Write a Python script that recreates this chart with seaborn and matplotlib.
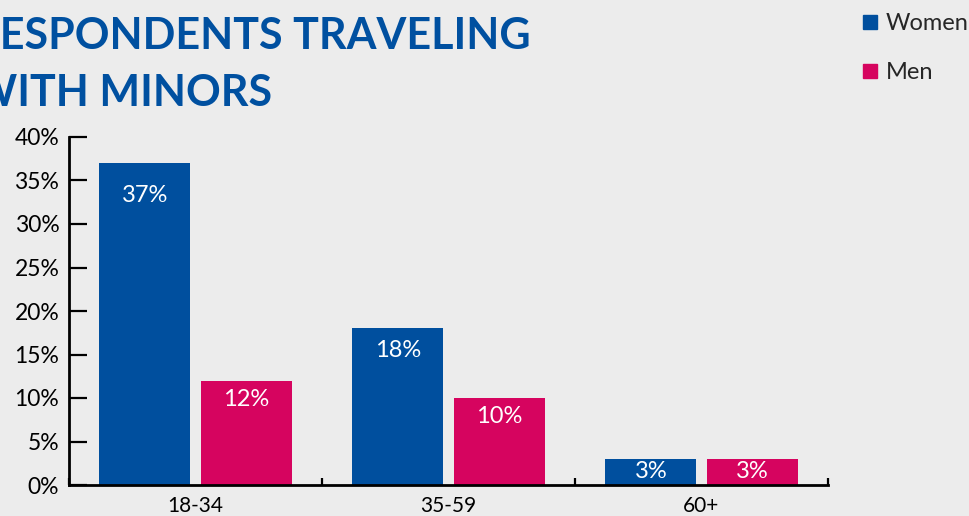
import matplotlib
matplotlib.use("Agg")
import matplotlib.pyplot as plt
import seaborn as sns
import pandas as pd
from matplotlib.lines import Line2D
from matplotlib.ticker import FixedLocator

# Share of respondents traveling with minors, by age group and gender (%)
age_groups = ["18-34", "35-59", "60+"]
women = [37, 18, 3]
men = [12, 10, 3]
genders = ["Women", "Men"]
y_ticks = [0, 5, 10, 15, 20, 25, 30, 35, 40]
y_tick_labels = [f"{t}%" for t in y_ticks]
title = "RESPONDENTS TRAVELING\nWITH MINORS"

BG = "#ececec"
BLUE = "#004f9e"
PINK = "#d6045f"
TITLE_BLUE = "#0050a0"

sns.set_theme(style="white")
plt.rcParams["font.family"] = ["Lato", "DejaVu Sans"]

df = pd.DataFrame({
    "Age": age_groups * 2,
    "Share": women + men,
    "Gender": ["Women"] * len(women) + ["Men"] * len(men),
})

W, H = 970, 516
fig = plt.figure(figsize=(W / 100, H / 100), dpi=100, facecolor=BG)
ax = fig.add_axes([69 / W, (H - 485) / H, (828 - 69) / W, (485 - 137) / H])
ax.set_facecolor(BG)

sns.barplot(data=df, x="Age", y="Share", hue="Gender", hue_order=genders,
            palette={"Women": BLUE, "Men": PINK}, width=0.8, gap=0.1,
            saturation=1, errorbar=None, legend=False, linewidth=0, ax=ax)

ax.set_xlim(-0.5, len(age_groups) - 0.5)
ax.set_ylim(0, 40)
ax.set_xlabel("")
ax.set_ylabel("")

for side in ("top", "right"):
    ax.spines[side].set_visible(False)
for side in ("left", "bottom"):
    ax.spines[side].set_color("black")
    ax.spines[side].set_linewidth(2)

ax.set_yticks(y_ticks)
ax.set_yticklabels(y_tick_labels)
ax.tick_params(axis="y", direction="in", length=13, width=1.6, color="black",
               pad=7, labelsize=16.5, labelcolor="black", left=True)
ax.tick_params(axis="x", which="major", length=0, pad=8, labelsize=15,
               labelcolor="black")
ax.xaxis.set_minor_locator(FixedLocator([i + 0.5 for i in range(-1, len(age_groups))]))
ax.tick_params(axis="x", which="minor", direction="in", length=5, width=1.6,
               color="black", bottom=True)

# value labels inside the top of each bar
px_per_unit = ax.bbox.height / 40
for container in ax.containers:
    for bar in container:
        v = bar.get_height()
        bar_px = v * px_per_unit
        off_px = min(bar_px / 2, 13 + 0.06 * bar_px)
        ax.text(bar.get_x() + bar.get_width() / 2, v - off_px / px_per_unit,
                f"{v:.0f}%", ha="center", va="center", color="white",
                fontsize=17)

fig.text(-28 / W, 1 - 16 / H, title, ha="left", va="top", fontsize=31,
         fontweight="bold", color=TITLE_BLUE, linespacing=1.53)

handles = [Line2D([], [], marker="s", linestyle="none", markersize=10.5,
                  markerfacecolor=c, markeredgecolor=c) for c in (BLUE, PINK)]
fig.legend(handles, genders, loc="upper left", bbox_to_anchor=(853 / W, 1 - 6 / H),
           frameon=False, fontsize=17, handlelength=0.8, handletextpad=0.3,
           labelspacing=1.2, borderaxespad=0, borderpad=0.3)

fig.savefig("out.png", dpi=100, facecolor=BG)
